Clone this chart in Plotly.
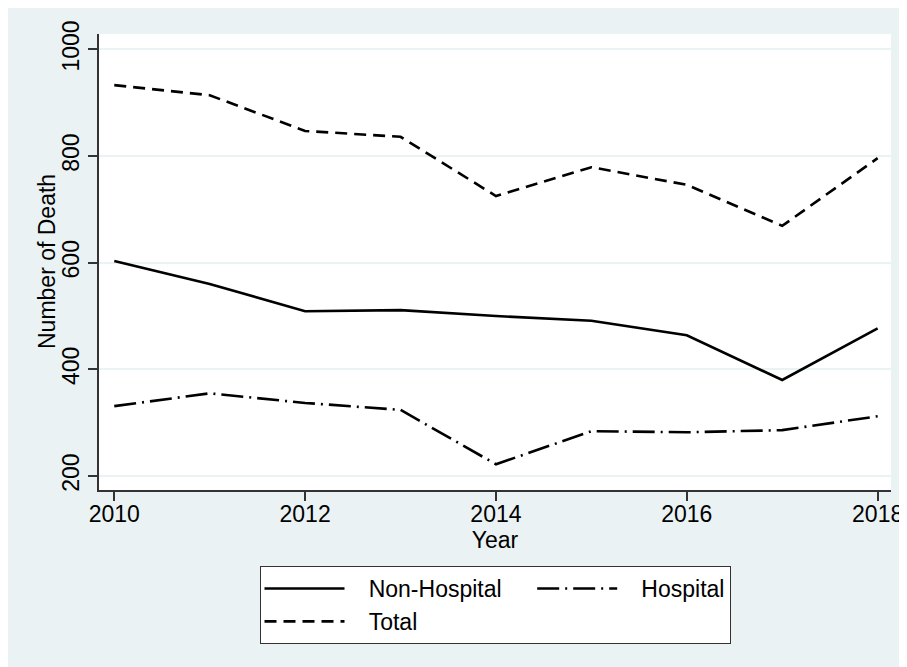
import plotly.graph_objects as go

years = [2010, 2011, 2012, 2013, 2014, 2015, 2016, 2017, 2018]
non_hospital = [603, 560, 509, 511, 500, 491, 464, 380, 477]
hospital = [331, 355, 337, 324, 222, 284, 282, 286, 312]
total = [933, 914, 847, 836, 725, 779, 746, 669, 796]

x_ticks = [2010, 2012, 2014, 2016, 2018]
y_ticks = [200, 400, 600, 800, 1000]

BG = "#EAF2F3"
FONT = "Liberation Sans, Arial, sans-serif"
SP = "\u00a0"

fig = go.Figure()
fig.add_trace(go.Scatter(x=years, y=non_hospital, mode="lines", name=SP * 3 + "Non-Hospital" + SP * 4,
                         legendgroup="a", line=dict(color="black", width=2.6)))
fig.add_trace(go.Scatter(x=years, y=hospital, mode="lines", name=SP * 3 + "Hospital",
                         legendgroup="b", line=dict(color="black", width=2.6, dash="22px,6px,2px,6px")))
fig.add_trace(go.Scatter(x=years, y=total, mode="lines", name=SP * 3 + "Total",
                         legendgroup="a", line=dict(color="black", width=2.6, dash="12px,7px")))

W, H = 907, 667
L, R, T, B = 91, 22, 26, 185
pw, ph = W - L - R, H - T - B


def px_y(p):
    return (H - B - p) / ph


fig.update_layout(
    width=W, height=H,
    margin=dict(l=L, r=R, t=T, b=B, pad=0),
    paper_bgcolor=BG,
    plot_bgcolor="white",
    font=dict(family=FONT, size=23, color="black"),
    showlegend=True,
    legend=dict(orientation="h", traceorder="grouped", x=0.5, xanchor="center",
                y=px_y(558), yanchor="top", bgcolor="white", bordercolor="#333333",
                borderwidth=1, itemwidth=80, tracegroupgap=0,
                font=dict(family=FONT, size=23, color="black")),
    xaxis=dict(range=[2009.84, 2018.14], tickvals=x_ticks, showgrid=False, zeroline=False,
               showline=True, linecolor="#333333", linewidth=1.5, ticks="outside",
               ticklen=9, tickwidth=1.5, tickcolor="#333333", ticklabelstandoff=-6,
               title=dict(text="Year", standoff=2, font=dict(size=23))),
    yaxis=dict(range=[173.75, 1028.8], tickvals=y_ticks, tickangle=-90, showgrid=True,
               gridcolor=BG, gridwidth=1.5, zeroline=False,
               showline=True, linecolor="#333333", linewidth=1.5, ticks="outside",
               ticklen=9, tickwidth=1.5, tickcolor="#333333"),
    annotations=[dict(text="Number of Death", xref="paper", yref="paper", x=0, y=0.5,
                      xanchor="center", yanchor="middle", xshift=-52, textangle=-90,
                      showarrow=False, font=dict(family=FONT, size=23, color="black"))],
)

fig.write_html("out.html")
